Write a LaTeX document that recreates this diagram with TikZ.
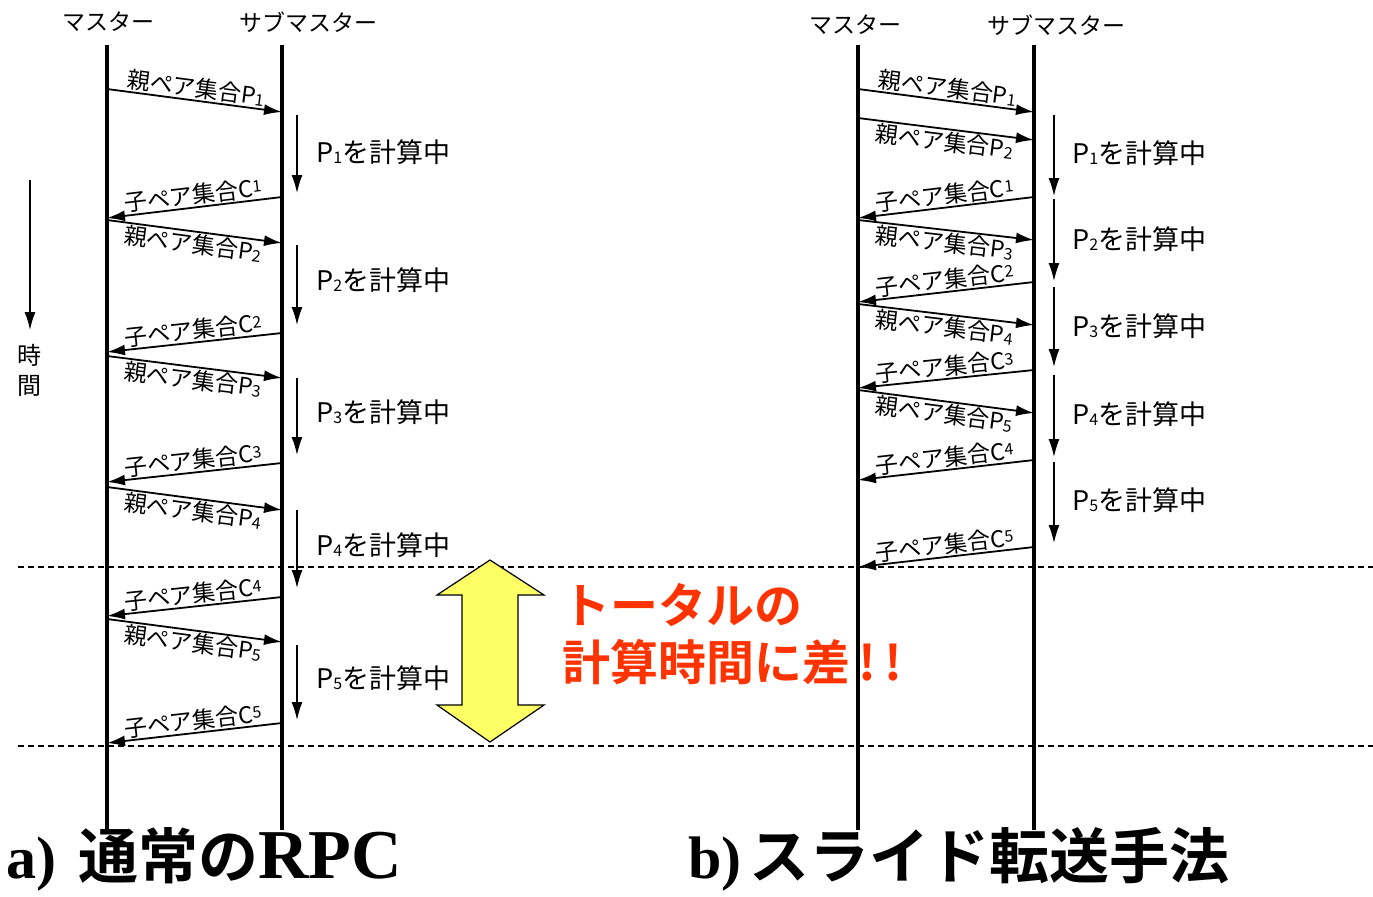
\documentclass[tikz,border=0pt]{standalone}
\usepackage{fontspec}
\setmainfont{Noto Sans CJK JP}
\newfontfamily\jpbold{Noto Sans CJK JP Bold}
\newfontfamily\serifbold{Liberation Serif Bold}
\usetikzlibrary{arrows.meta}
\definecolor{warnred}{RGB}{255,51,0}
\definecolor{spanyellow}{RGB}{255,255,102}
\newcommand\pn[1]{P\raisebox{-0.1ex}{\fontsize{8}{8}\selectfont#1}}
\newcommand\cn[1]{C\raisebox{0.3ex}{\fontsize{8}{8}\selectfont#1}}
\tikzset{
  life/.style={line width=2pt},
  msg/.style={line width=0.9pt,-{Latex[length=9pt,width=5.5pt]}},
  ret/.style={line width=0.9pt,{Latex[length=9pt,width=5.5pt]}-},
  busy/.style={line width=0.7pt,-{Latex[length=9pt,width=5.5pt]}},
  span/.style={line width=0.8pt,dash pattern=on 3pt off 2pt},
  lbl/.style={font=\fontsize{11.5}{12}\selectfont,inner sep=0.5pt,sloped},
  head/.style={font=\fontsize{11.5}{12}\selectfont},
  job/.style={font=\fontsize{13.5}{14}\selectfont,anchor=west,inner sep=0pt}
}
\begin{document}
\begin{tikzpicture}[x=0.5pt,y=-0.5pt]
  \useasboundingbox (0,0) rectangle (1373,896);
  \path
    (108,22) node[head] (lm){マスター}
    (308,22) node[head] (ls){サブマスター}
    (855,25) node[head] (rm){マスター}
    (1056,25) node[head] (rs){サブマスター}
    (107,45) coordinate (lmt) (107,830) coordinate (lmb)
    (282,45) coordinate (lst) (282,830) coordinate (lsb)
    (858,45) coordinate (rmt) (858,830) coordinate (rmb)
    (1034,45) coordinate (rst) (1034,830) coordinate (rsb);
  \draw[life] (lmt) -- (lmb);
  \draw[life] (lst) -- (lsb);
  \draw[life] (rmt) -- (rmb);
  \draw[life] (rst) -- (rsb);
  % a) ordinary RPC
  \path
    (107,89) coordinate (a1) (282,112) coordinate (b1)
    (107,218) coordinate (a2) (282,197) coordinate (b2)
    (107,220) coordinate (a3) (282,243) coordinate (b3)
    (107,352) coordinate (a4) (282,333) coordinate (b4)
    (107,356) coordinate (a5) (282,378) coordinate (b5)
    (107,482) coordinate (a6) (282,463) coordinate (b6)
    (107,487) coordinate (a7) (282,510) coordinate (b7)
    (107,616) coordinate (a8) (282,597) coordinate (b8)
    (107,619) coordinate (a9) (282,642) coordinate (b9)
    (107,743) coordinate (a10) (282,723) coordinate (b10);
  \draw[msg] (a1) -- node[lbl,above] {親ペア集合\pn1} (b1);
  \draw[ret] (a2) -- node[lbl,above] {子ペア集合\cn1} (b2);
  \draw[msg] (a3) -- node[lbl,below] {親ペア集合\pn2} (b3);
  \draw[ret] (a4) -- node[lbl,above] {子ペア集合\cn2} (b4);
  \draw[msg] (a5) -- node[lbl,below] {親ペア集合\pn3} (b5);
  \draw[ret] (a6) -- node[lbl,above] {子ペア集合\cn3} (b6);
  \draw[msg] (a7) -- node[lbl,below] {親ペア集合\pn4} (b7);
  \draw[ret] (a8) -- node[lbl,above] {子ペア集合\cn4} (b8);
  \draw[msg] (a9) -- node[lbl,below] {親ペア集合\pn5} (b9);
  \draw[ret] (a10) -- node[lbl,above] {子ペア集合\cn5} (b10);
  \path
    (297,115) coordinate (u1) (297,193) coordinate (v1)
    (297,245) coordinate (u2) (297,325) coordinate (v2)
    (297,378) coordinate (u3) (297,455) coordinate (v3)
    (297,510) coordinate (u4) (297,588) coordinate (v4)
    (297,645) coordinate (u5) (297,720) coordinate (v5);
  \draw[busy] (u1) -- (v1);
  \draw[busy] (u2) -- (v2);
  \draw[busy] (u3) -- (v3);
  \draw[busy] (u4) -- (v4);
  \draw[busy] (u5) -- (v5);
  \node[job] (j1) at (316,152) {\pn1を計算中};
  \node[job] (j2) at (316,280) {\pn2を計算中};
  \node[job] (j3) at (316,412) {\pn3を計算中};
  \node[job] (j4) at (316,545) {\pn4を計算中};
  \node[job] (j5) at (316,678) {\pn5を計算中};
  % b) slide transfer
  \path
    (858,89) coordinate (c1) (1034,112) coordinate (d1)
    (858,118) coordinate (c2) (1034,140) coordinate (d2)
    (858,218) coordinate (c3) (1034,197) coordinate (d3)
    (858,220) coordinate (c4) (1034,240) coordinate (d4)
    (858,302) coordinate (c5) (1034,282) coordinate (d5)
    (858,304) coordinate (c6) (1034,325) coordinate (d6)
    (858,388) coordinate (c7) (1034,370) coordinate (d7)
    (858,390) coordinate (c8) (1034,413) coordinate (d8)
    (858,480) coordinate (c9) (1034,460) coordinate (d9)
    (858,567) coordinate (c10) (1034,547) coordinate (d10);
  \draw[msg] (c1) -- node[lbl,above] {親ペア集合\pn1} (d1);
  \draw[msg] (c2) -- node[lbl,below] {親ペア集合\pn2} (d2);
  \draw[ret] (c3) -- node[lbl,above] {子ペア集合\cn1} (d3);
  \draw[msg] (c4) -- node[lbl,below] {親ペア集合\pn3} (d4);
  \draw[ret] (c5) -- node[lbl,above] {子ペア集合\cn2} (d5);
  \draw[msg] (c6) -- node[lbl,below] {親ペア集合\pn4} (d6);
  \draw[ret] (c7) -- node[lbl,above] {子ペア集合\cn3} (d7);
  \draw[msg] (c8) -- node[lbl,below] {親ペア集合\pn5} (d8);
  \draw[ret] (c9) -- node[lbl,above] {子ペア集合\cn4} (d9);
  \draw[ret] (c10) -- node[lbl,above] {子ペア集合\cn5} (d10);
  \path
    (1054,115) coordinate (w1) (1054,196) coordinate (x1)
    (1054,199) coordinate (w2) (1054,281) coordinate (x2)
    (1054,287) coordinate (w3) (1054,367) coordinate (x3)
    (1054,375) coordinate (w4) (1054,457) coordinate (x4)
    (1054,462) coordinate (w5) (1054,543) coordinate (x5);
  \draw[busy] (w1) -- (x1);
  \draw[busy] (w2) -- (x2);
  \draw[busy] (w3) -- (x3);
  \draw[busy] (w4) -- (x4);
  \draw[busy] (w5) -- (x5);
  \node[job] (k1) at (1072,153) {\pn1を計算中};
  \node[job] (k2) at (1072,239) {\pn2を計算中};
  \node[job] (k3) at (1072,326) {\pn3を計算中};
  \node[job] (k4) at (1072,414) {\pn4を計算中};
  \node[job] (k5) at (1072,500) {\pn5を計算中};
  % time axis
  \coordinate (tt) at (30,180);
  \node[font=\fontsize{12}{15}\selectfont,align=center,inner sep=0pt] (time) at (30,370) {時\\間};
  \draw[busy] (tt) -- (30,330);
  % difference
  \path (18,567) coordinate (s1) (1373,567) coordinate (e1)
        (18,746) coordinate (s2) (1373,746) coordinate (e2);
  \draw[span] (s1) -- (e1);
  \draw[span] (s2) -- (e2);
  \filldraw[fill=spanyellow,draw=black,line width=0.6pt]
    (490,560) -- (544,595) -- (518,595) -- (518,705) -- (544,705) -- (490,742)
    -- (437,705) -- (462,705) -- (462,595) -- (437,595) -- cycle;
  \node[anchor=west,align=left,text=warnred,inner sep=0pt,
        font=\jpbold\fontsize{24}{28.5}\selectfont] (note) at (562,634)
    {トータルの\\計算時間に差\,!\,!};
  % captions
  \node[anchor=base west,inner sep=0pt,font=\fontsize{30}{30}\selectfont] (capa) at (6,878)
    {{\serifbold a)}\hspace{11pt}{\jpbold 通常の}{\serifbold\fontsize{35}{35}\selectfont RPC}};
  \node[anchor=base west,inner sep=0pt,font=\fontsize{30}{30}\selectfont] (capb) at (688,878)
    {{\serifbold b)}\hspace{4pt}{\jpbold スライド転送手法}};
\end{tikzpicture}
\end{document}
